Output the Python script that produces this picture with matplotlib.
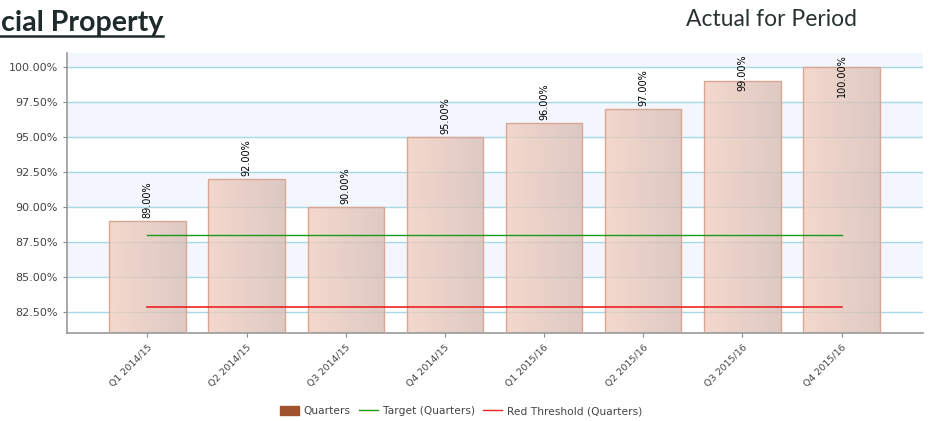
import matplotlib
matplotlib.use("Agg")
import matplotlib.pyplot as plt
import numpy as np
from matplotlib.colors import LinearSegmentedColormap
from matplotlib.lines import Line2D
from matplotlib.patches import Patch

quarters = ["Q1 2014/15", "Q2 2014/15", "Q3 2014/15", "Q4 2014/15",
            "Q1 2015/16", "Q2 2015/16", "Q3 2015/16", "Q4 2015/16"]
actual = [89.0, 92.0, 90.0, 95.0, 96.0, 97.0, 99.0, 100.0]
target = [88.0] * 8
red_threshold = [82.85] * 8
y_ticks = [82.5, 85.0, 87.5, 90.0, 92.5, 95.0, 97.5, 100.0]

plt.rcParams["font.family"] = ["DejaVu Sans"]

fig = plt.figure(figsize=(9.3, 4.21), dpi=100)
ax = fig.add_axes([67 / 930, 88 / 421, 856 / 930, 280 / 421])

ymin, ymax = 81.0, 101.0
x = np.arange(len(quarters))
ax.set_xlim(-0.81, len(quarters) - 1 + 0.82)
ax.set_ylim(ymin, ymax)

# alternating background bands
for lo, hi in [(85.0, 87.5), (90.0, 92.5), (95.0, 97.5), (100.0, ymax)]:
    ax.axhspan(lo, hi, color="#f4f6fd", zorder=0, lw=0)
for t in y_ticks:
    ax.axhline(t, color="#a6d9e5", lw=1.0, zorder=1)

# bars with a left-to-right gradient fill
cmap = LinearSegmentedColormap.from_list("bar", ["#f1cfc0", "#d6bdb5"])
grad = np.linspace(0, 1, 64).reshape(1, -1)
width = 0.77
bars = ax.bar(x, actual, width=width, bottom=0, color="none",
              edgecolor="#dba595", lw=1.0, zorder=3)
for b in bars:
    x0, w, h = b.get_x(), b.get_width(), b.get_height()
    im = ax.imshow(grad, cmap=cmap, aspect="auto", alpha=0.8,
                   extent=[x0, x0 + w, ymin, h], zorder=2,
                   interpolation="bilinear")
    im.set_clip_path(b)

ax.plot(x, target, color="#1a9a1a", lw=1.0, zorder=4)
ax.plot(x, red_threshold, color="#ee2222", lw=1.2, zorder=4)

# value labels, kept inside the plot area
for xi, v in zip(x, actual):
    label = f"{v:.2f}%"
    if v + 2.9 > ymax:
        ax.annotate(label, (xi, ymax), xytext=(0, -1), textcoords="offset points",
                    rotation=90, ha="center", va="top", fontsize=7, zorder=5)
    else:
        ax.annotate(label, (xi, v), xytext=(0, 2), textcoords="offset points",
                    rotation=90, ha="center", va="bottom", fontsize=7, zorder=5)

ax.set_yticks(y_ticks)
ax.set_yticklabels([f"{t:.2f}%" for t in y_ticks], fontsize=8, color="#444444")
ax.set_xticks(x)
ax.set_xticklabels(quarters, rotation=45, ha="right", rotation_mode="anchor",
                   fontsize=6.8, color="#444444")
ax.tick_params(axis="both", length=3, color="#888888")
ax.tick_params(axis="x", pad=4)
for side in ["top", "right"]:
    ax.spines[side].set_visible(False)
for side in ["left", "bottom"]:
    ax.spines[side].set_color("#999999")
    ax.spines[side].set_linewidth(1.2)

handles = [Patch(facecolor="#a0522d", edgecolor="#a0522d"),
           Line2D([], [], color="#1a9a1a", lw=1),
           Line2D([], [], color="#ee2222", lw=1)]
fig.legend(handles, ["Quarters", "Target (Quarters)", "Red Threshold (Quarters)"],
           loc="center", bbox_to_anchor=(461 / 930, 1 - 411 / 421), ncol=3,
           frameon=False, fontsize=7.7, handlelength=1.8, handleheight=0.9,
           columnspacing=0.8, handletextpad=0.4, labelcolor="#444444")

# header text
fig.text(163 / 930, 1 - 31 / 421, "cial Property", ha="right", va="baseline",
         fontsize=20.6, fontweight="bold", color="#1f2a2a", family="Lato")
fig.add_artist(Line2D([0, 163 / 930], [1 - 36 / 421] * 2, color="#1f2a2a", lw=1.8))
fig.text(771 / 930, 1 - 26 / 421, "Actual for Period", ha="center", va="baseline",
         fontsize=16.5, color="#2a3333", family="Lato")

fig.savefig("out.png", dpi=100)
